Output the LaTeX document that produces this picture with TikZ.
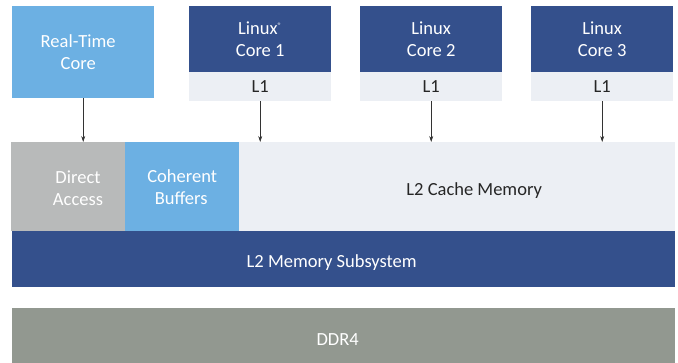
\documentclass[tikz,border=0pt]{standalone}
\usepackage{fontspec}
\setmainfont{Carlito}
\usetikzlibrary{positioning, arrows.meta}

\definecolor{rtblue}{HTML}{6CB0E3}
\definecolor{corenavy}{HTML}{34508C}
\definecolor{cachegrey}{HTML}{ECEFF4}
\definecolor{directgrey}{HTML}{B8BABA}
\definecolor{ddrgrey}{HTML}{929890}

\tikzset{
  blk/.style={rectangle, inner sep=0pt, anchor=north west, align=center, font=\fontsize{18.5}{22}\selectfont},
  core/.style={blk, fill=corenavy, text=white, minimum width=142pt, minimum height=66pt},
  lone/.style={blk, fill=cachegrey, text=black!85, minimum width=142pt, minimum height=29pt},
  link/.style={-{Stealth[length=6pt,width=4pt]}, line width=0.6pt, black!80}
}
% lower a one-line label without changing its box
\newcommand{\lowertext}[2]{\raisebox{-#1}[13pt][4pt]{#2}}

\begin{document}
\begin{tikzpicture}[x=1pt, y=-1pt]
        \useasboundingbox (0,0) rectangle (678,363);

        % cores
        \node[blk, fill=rtblue, text=white, minimum width=142pt, minimum height=92pt] (rt) at (12,6) {Real-Time\hspace*{10pt}\\Core\hspace*{10pt}};
        \node[core] (lx1) at (189,6) {Linux\textsuperscript{\fontsize{8}{8}\selectfont ®}\\Core 1};
        \node[core] (lx2) at (360,6) {Linux\\Core 2};
        \node[core] (lx3) at (531,6) {Linux\\Core 3};
        \node[lone] (l1a) at (189,72) {L1};
        \node[lone] (l1b) at (360,72) {L1};
        \node[lone] (l1c) at (531,72) {L1};

        % memory row
        \node[blk, fill=directgrey, text=white, minimum width=114pt, minimum height=89pt] (da) at (11,142) {};
        \node[text=white, align=center, font=\fontsize{18.5}{22}\selectfont] (datext) at (78,188) {Direct\\Access};
        \node[blk, fill=rtblue, text=white, minimum width=114pt, minimum height=89pt] (cb) at (125,142) {Coherent\\Buffers\hspace*{2pt}};
        \node[blk, fill=cachegrey, text=black!85, minimum width=436pt, minimum height=89pt] (l2c) at (239,142) {\hspace*{34pt}\lowertext{4pt}{L2 Cache Memory}};
        \node[blk, fill=corenavy, text=white, minimum width=663pt, minimum height=56pt] (l2m) at (12,231) {\lowertext{4pt}{L2 Memory Subsystem}\hspace*{24pt}};
        \node[blk, fill=ddrgrey, text=white, minimum width=663pt, minimum height=55pt] (ddr) at (12,308) {\lowertext{5pt}{DDR4}\hspace*{12pt}};

        \draw[link] (rt.south) -- (rt.south |- da.north);
        \draw[link] (l1a.south) -- (l1a.south |- l2c.north);
        \draw[link] (l1b.south) -- (l1b.south |- l2c.north);
        \draw[link] (l1c.south) -- (l1c.south |- l2c.north);
\end{tikzpicture}
\end{document}
